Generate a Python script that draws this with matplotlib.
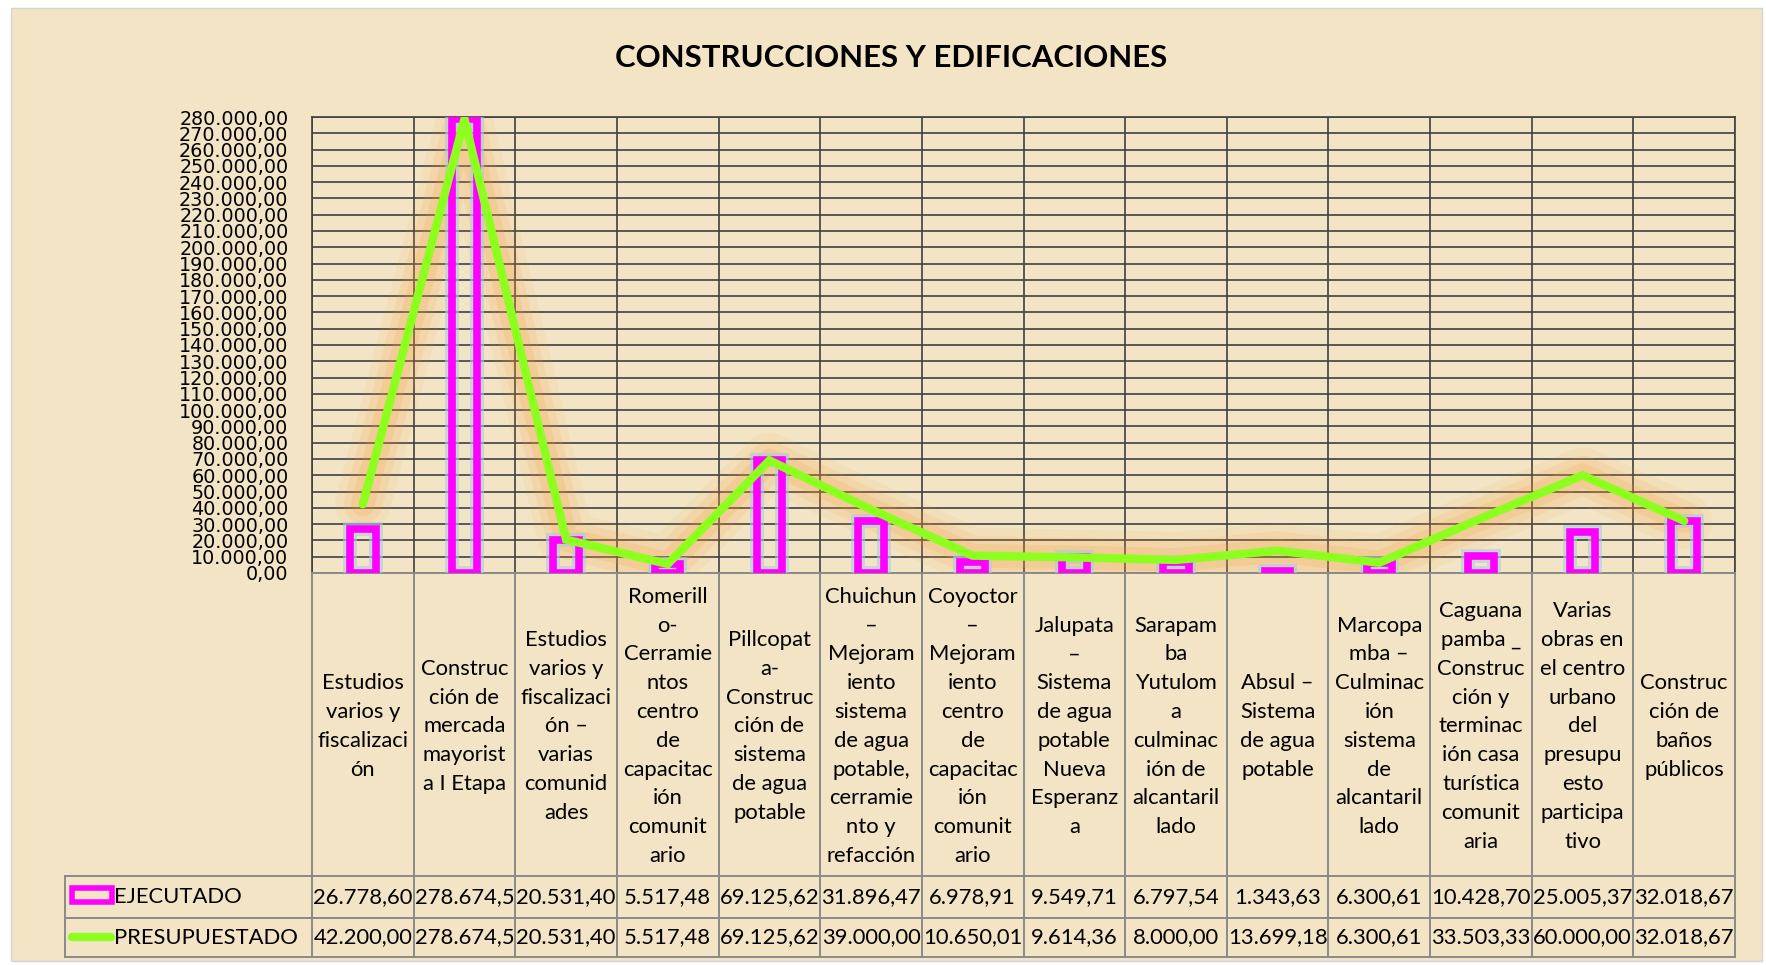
import numpy as np
import matplotlib.pyplot as plt
from matplotlib.patches import Rectangle

# datos
categorias = [
    "Estudios\nvarios y\nfiscalizaci\nón",
    "Construc\nción de\nmercada\nmayorist\na I Etapa",
    "Estudios\nvarios y\nfiscalizaci\nón –\nvarias\ncomunid\nades",
    "Romerill\no-\nCerramie\nntos\ncentro\nde\ncapacitac\nión\ncomunit\nario",
    "Pillcopat\na-\nConstruc\nción de\nsistema\nde agua\npotable",
    "Chuichun\n–\nMejoram\niento\nsistema\nde agua\npotable,\ncerramie\nnto y\nrefacción",
    "Coyoctor\n–\nMejoram\niento\ncentro\nde\ncapacitac\nión\ncomunit\nario",
    "Jalupata\n–\nSistema\nde agua\npotable\nNueva\nEsperanz\na",
    "Sarapam\nba\nYutulom\na\nculminac\nión de\nalcantaril\nlado",
    "Absul –\nSistema\nde agua\npotable",
    "Marcopa\nmba –\nCulminac\nión\nsistema\nde\nalcantaril\nlado",
    "Caguana\npamba _\nConstruc\nción y\nterminac\nión casa\nturística\ncomunit\naria",
    "Varias\nobras en\nel centro\nurbano\ndel\npresupu\nesto\nparticipa\ntivo",
    "Construc\nción de\nbaños\npúblicos",
]
ejecutado = [26778.60, 278674.5, 20531.40, 5517.48, 69125.62, 31896.47, 6978.91,
             9549.71, 6797.54, 1343.63, 6300.61, 10428.70, 25005.37, 32018.67]
presupuestado = [42200.00, 278674.5, 20531.40, 5517.48, 69125.62, 39000.00, 10650.01,
                 9614.36, 8000.00, 13699.18, 6300.61, 33503.33, 60000.00, 32018.67]
ejec_txt = ["26.778,60", "278.674,5", "20.531,40", "5.517,48", "69.125,62", "31.896,47", "6.978,91",
            "9.549,71", "6.797,54", "1.343,63", "6.300,61", "10.428,70", "25.005,37", "32.018,67"]
pres_txt = ["42.200,00", "278.674,5", "20.531,40", "5.517,48", "69.125,62", "39.000,00", "10.650,01",
            "9.614,36", "8.000,00", "13.699,18", "6.300,61", "33.503,33", "60.000,00", "32.018,67"]
series = ["EJECUTADO", "PRESUPUESTADO"]
titulo = "CONSTRUCCIONES Y EDIFICACIONES"
ymax = 280000
paso = 10000

W, H = 1766, 965
fig = plt.figure(figsize=(W / 100, H / 100), dpi=100)
fig.patch.set_facecolor('white')

# capa de fondo en pixeles (fondo + tabla de datos)
bg = fig.add_axes([0, 0, 1, 1])
bg.set_xlim(0, W)
bg.set_ylim(H, 0)
bg.axis('off')
bg.add_patch(Rectangle((11, 8), 1751, 953, facecolor='#F2E4C4', edgecolor='#D4D4D4', lw=1))

x0, x1 = 312, 1735
y_top, y_cero = 117, 573
r1, r2, r3 = 876, 918, 957
tx_left = 65
n = len(categorias)
colw = (x1 - x0) / n
gris = '#8A8A8A'

for k in range(n + 1):
    bg.plot([x0 + k * colw] * 2, [y_cero, r3], color=gris, lw=1.4)
bg.plot([tx_left, tx_left], [r1, r3], color=gris, lw=1.4)
for yy in (r1, r2, r3):
    bg.plot([tx_left, x1], [yy, yy], color=gris, lw=1.4)

fuente = 'Lato'
for i in range(n):
    cx = x0 + (i + 0.5) * colw
    bg.text(cx, (y_cero + r1) / 2 + 2, categorias[i], ha='center', va='center',
            fontsize=15.8, family=fuente, linespacing=1.55)
    bg.text(cx, (r1 + r2) / 2, ejec_txt[i], ha='center', va='center', fontsize=15.8, family=fuente)
    bg.text(cx, (r2 + r3) / 2, pres_txt[i], ha='center', va='center', fontsize=15.8, family=fuente)

# claves de la leyenda dentro de la tabla
bg.add_patch(Rectangle((72, 888), 40, 14, facecolor='none', edgecolor='#FF00FF', lw=4, joinstyle='miter'))
bg.plot([72, 111], [937, 937], color='#8CFF1E', lw=6, solid_capstyle='round')
bg.text(114, (r1 + r2) / 2, series[0], ha='left', va='center', fontsize=15.8, family=fuente)
bg.text(114, (r2 + r3) / 2, series[1], ha='left', va='center', fontsize=15.8, family=fuente)

fig.text(891 / W, 1 - 58 / H, titulo, ha='center', va='center', fontsize=22.4,
         fontweight='bold', family=fuente)

# grafico principal
ax = fig.add_axes([x0 / W, 1 - y_cero / H, (x1 - x0) / W, (y_cero - y_top) / H])
ax.set_facecolor('none')
ax.set_xlim(-0.5, n - 0.5)
ax.set_ylim(0, ymax)
ticks_y = np.arange(0, ymax + 1, paso)
ax.set_yticks(ticks_y)
ax.set_yticklabels([f"{v:,.2f}".replace(',', 'X').replace('.', ',').replace('X', '.') for v in ticks_y],
                   fontsize=13.8, family='DejaVu Sans')
ax.tick_params(axis='y', length=0, pad=17)
ax.set_xticks([])
ax.grid(axis='y', color='#404040', lw=1.2)
ax.set_axisbelow(True)
for k in range(n + 1):
    ax.axvline(k - 0.5, color='#404040', lw=1.2, zorder=0.5)
for s in ['left', 'right', 'top']:
    ax.spines[s].set_color('#404040')
    ax.spines[s].set_linewidth(1.2)
ax.spines['bottom'].set_color(gris)
ax.spines['bottom'].set_linewidth(1.4)

x = np.arange(n)
# resplandor
for lw, a in [(40, 0.08), (28, 0.12), (17, 0.16)]:
    ax.plot(x, presupuestado, color='#F39A3C', lw=lw, alpha=a, solid_capstyle='round',
            solid_joinstyle='round', zorder=2)
ax.bar(x, ejecutado, width=0.25, facecolor='none', edgecolor='#A9CBE6', lw=10, alpha=0.6,
       joinstyle='miter', zorder=3)
ax.bar(x, ejecutado, width=0.25, facecolor='none', edgecolor='#FF00FF', lw=5.5,
       joinstyle='miter', zorder=4)
ax.plot(x, presupuestado, color='#8CFF1E', lw=6, solid_capstyle='round',
        solid_joinstyle='miter', zorder=5)

fig.savefig('out.png', dpi=100, facecolor=fig.get_facecolor())
